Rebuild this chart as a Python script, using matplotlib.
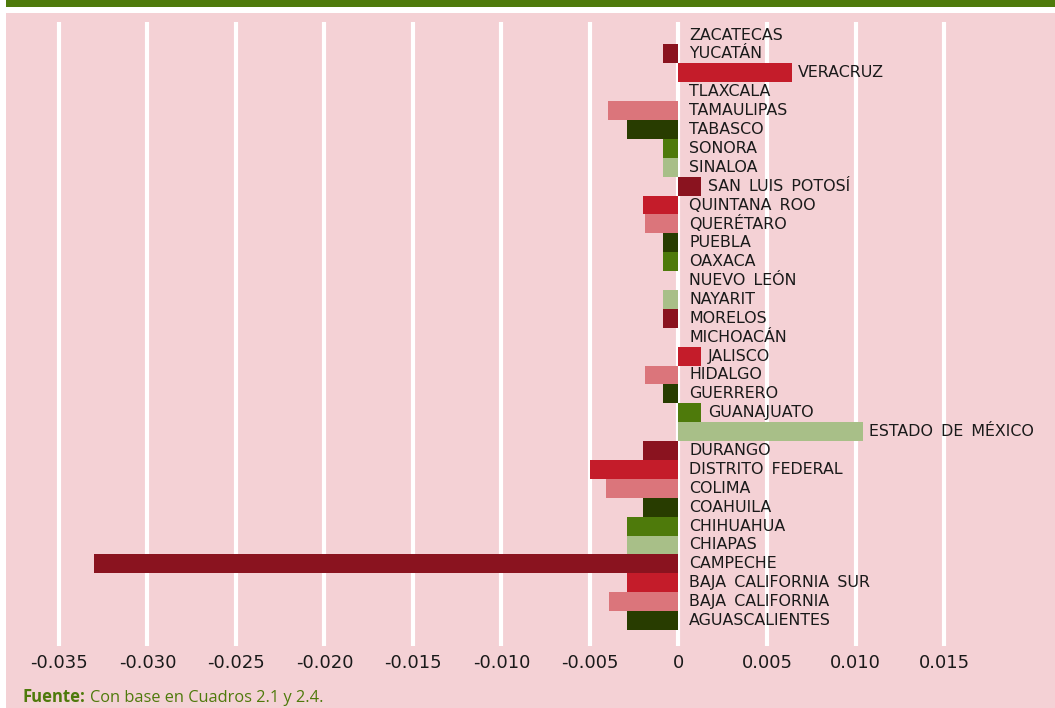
import matplotlib.pyplot as plt
from matplotlib.patches import Rectangle

# states, bottom to top
states = ['Aguascalientes', 'Baja California', 'Baja California Sur', 'Campeche',
          'Chiapas', 'Chihuahua', 'Coahuila', 'Colima', 'Distrito Federal', 'Durango',
          'Estado de México', 'Guanajuato', 'Guerrero', 'Hidalgo', 'Jalisco',
          'Michoacán', 'Morelos', 'Nayarit', 'Nuevo León', 'Oaxaca', 'Puebla',
          'Querétaro', 'Quintana Roo', 'San Luis Potosí', 'Sinaloa', 'Sonora',
          'Tabasco', 'Tamaulipas', 'Tlaxcala', 'Veracruz', 'Yucatán', 'Zacatecas']
values = [-0.0029, -0.0039, -0.0029, -0.0330,
          -0.0029, -0.0029, -0.0020, -0.0041, -0.0050, -0.0020,
          0.0104, 0.0013, -0.0009, -0.0019, 0.0013,
          0.0, -0.0009, -0.0009, 0.0, -0.0009, -0.0009,
          -0.0019, -0.0020, 0.0013, -0.0009, -0.0009,
          -0.0029, -0.0040, 0.0, 0.0064, -0.0009, 0.0]
ticks = [-0.035, -0.030, -0.025, -0.020, -0.015, -0.010, -0.005, 0, 0.005, 0.010, 0.015]
tick_labels = ['-0.035', '-0.030', '-0.025', '-0.020', '-0.015', '-0.010', '-0.005',
               '0', '0.005', '0.010', '0.015']

palette = ['#283c00', '#db757b', '#c41c2a', '#8a131f', '#a8bf88', '#4e7a0b']
PINK = '#f4d1d5'
GREEN = '#4e7a0b'

fig = plt.figure(figsize=(10.55, 7.08), dpi=100)
W, H = 1055, 708
fig.patches.append(Rectangle((6 / W, 0), 1 - 6 / W, 1 - 13 / H, transform=fig.transFigure,
                             facecolor=PINK, edgecolor='none', zorder=-5))
fig.patches.append(Rectangle((6 / W, 1 - 7 / H), 1 - 6 / W, 7 / H, transform=fig.transFigure,
                             facecolor=GREEN, edgecolor='none', zorder=-5))

ax = fig.add_axes([6 / W, 1 - 646 / H, 1 - 6 / W, (646 - 22) / H])
ax.set_facecolor('none')

# colours cycle over the states that actually have a bar
colors = []
k = 0
for v in values:
    if v != 0:
        colors.append(palette[k % len(palette)])
        k += 1
    else:
        colors.append('none')

y = range(len(states))
ax.barh(y, values, height=1.0, color=colors, zorder=3)

for i, (s, v) in enumerate(zip(states, values)):
    label = s.upper().replace(' ', ' \u2009')  # wider word gaps like the original
    if v > 0:
        ax.annotate(label, (v, i), xytext=(4.5, 0), textcoords='offset points',
                    va='center', ha='left', fontsize=11.4, color='#1a1a1a', zorder=4)
    else:
        ax.text(0.0006, i, label, va='center', ha='left', fontsize=11.4,
                color='#1a1a1a', zorder=4)

for t in ticks:
    ax.axvline(t, color='white', lw=3, zorder=1)

ax.set_xlim(-0.03799, 0.02127)
ax.set_ylim(-1.35, len(states) - 1 + 0.69)
ax.set_xticks(ticks)
ax.set_xticklabels(tick_labels, fontsize=13, color='#1a1a1a')
ax.tick_params(axis='x', length=0, pad=6)
ax.set_yticks([])
for sp in ax.spines.values():
    sp.set_visible(False)

# source note
t1 = fig.text(23 / W, 1 - 702 / H, 'Fuente:', fontsize=12, fontweight='bold', color=GREEN,
              va='baseline', ha='left', family='Open Sans')
fig.canvas.draw()
bb = t1.get_window_extent()
fig.text((bb.x1 + 4) / W, 1 - 702 / H, 'Con base en Cuadros 2.1 y 2.4.', fontsize=11.8,
         color=GREEN, va='baseline', ha='left', family='Open Sans')

fig.savefig('out.png', dpi=100)
